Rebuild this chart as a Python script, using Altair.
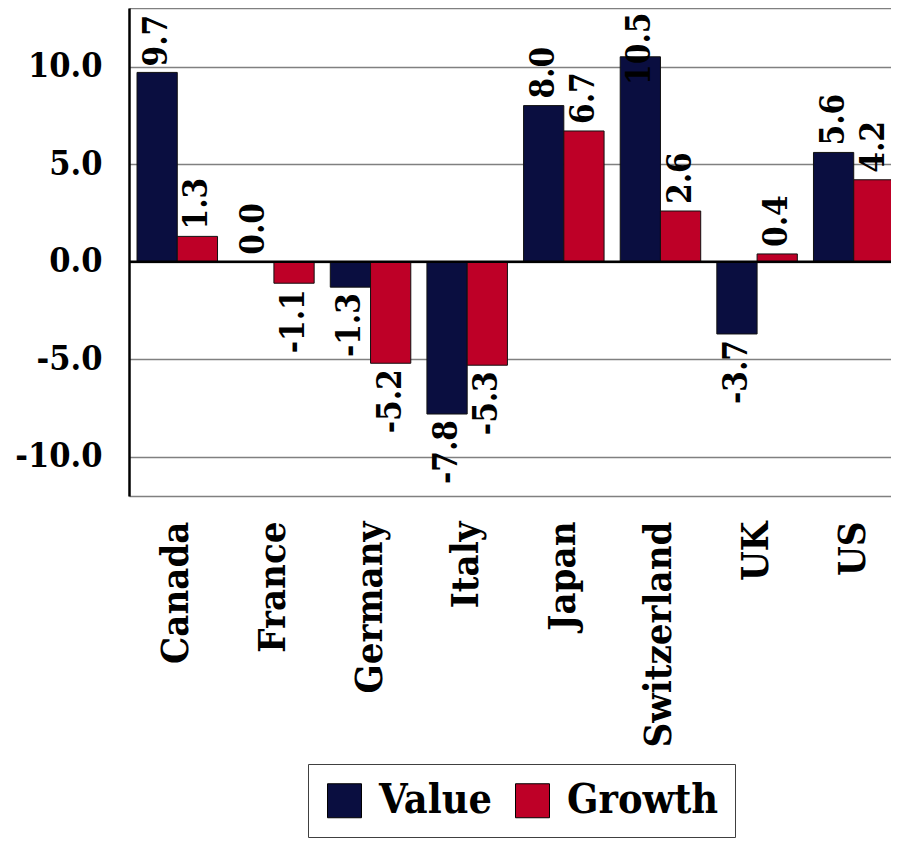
import altair as alt
import pandas as pd

countries = ["Canada", "France", "Germany", "Italy", "Japan", "Switzerland", "UK", "US"]
value = [9.7, 0.0, -1.3, -7.8, 8.0, 10.5, -3.7, 5.6]
growth = [1.3, -1.1, -5.2, -5.3, 6.7, 2.6, 0.4, 4.2]
series = ["Value", "Growth"]
colors = ["#0A0E40", "#BE0027"]
y_ticks = [-12, -10, -5, 0, 5, 10, 13]

rows = []
for i, c in enumerate(countries):
    rows.append({"country": c, "series": "Value", "v": value[i]})
    rows.append({"country": c, "series": "Growth", "v": growth[i]})
df = pd.DataFrame(rows)

FONTC = "DejaVu Serif Condensed"
MINUS = "\u2212"

x = alt.X(
    "country:N",
    sort=countries,
    scale=alt.Scale(range=[0, 773], paddingInner=0.167, paddingOuter=0.083),
    axis=alt.Axis(
        title=None, labelAngle=270, labelAlign="right", labelBaseline="middle",
        labelFont=FONTC, labelFontWeight="bold", labelFontSize=38, labelColor="black",
        labelPadding=25, labelLimit=400, ticks=False, domain=False, grid=False,
    ),
)
xo = alt.XOffset("series:N", sort=series, scale=alt.Scale(paddingInner=0, paddingOuter=0))
yscale = alt.Scale(domain=[-12, 13], nice=False, zero=False)

base = alt.Chart(df)

bars = base.mark_bar(stroke="#111111", strokeWidth=1).encode(
    x=x,
    xOffset=xo,
    y=alt.Y(
        "v:Q",
        scale=yscale,
        axis=alt.Axis(
            title=None, values=y_ticks,
            labelExpr="(datum.value == 13 || datum.value == -12) ? '' : replace(format(datum.value, '.1f'), '" + MINUS + "', '-')",
            labelFont=FONTC, labelFontWeight="bold", labelFontSize=34, labelColor="black",
            labelPadding=27, ticks=False, domain=True, domainColor="black", domainWidth=2.5,
            grid=True, gridColor="#808080", gridWidth=1.5,
        ),
    ),
    color=alt.Color(
        "series:N",
        sort=series,
        scale=alt.Scale(domain=series, range=colors),
        legend=alt.Legend(
            title=None, orient="none", legendX=179, legendY=756, direction="horizontal",
            symbolType="square", symbolSize=1156, symbolStrokeColor="black",
            symbolStrokeWidth=1, symbolOpacity=1,
            labelFont=FONTC, labelFontWeight="bold", labelFontSize=41, labelColor="black",
            labelOffset=14, columnPadding=19, padding=16,
            strokeColor="#404040", fillColor="white",
        ),
    ),
)

zero = alt.Chart(pd.DataFrame({"z": [0]})).mark_rule(color="black", strokeWidth=2.5).encode(
    y=alt.Y("z:Q", scale=yscale)
)

labels = base.transform_calculate(
    label="replace(format(datum.v, '.1f'), '" + MINUS + "', '-')"
)

pos = labels.transform_filter("datum.v >= 0").transform_calculate(
    ly="min(datum.v, 13 - length(datum.label) * 0.95 - 0.5)"
).mark_text(
    angle=270, align="left", baseline="middle", dx=7,
    font=FONTC, fontWeight="bold", fontSize=33, color="black",
).encode(x=x, xOffset=xo, y=alt.Y("ly:Q", scale=yscale), text="label:N")

neg = labels.transform_filter("datum.v < 0").mark_text(
    angle=270, align="right", baseline="middle", dx=-6,
    font=FONTC, fontWeight="bold", fontSize=33, color="black",
).encode(x=x, xOffset=xo, y=alt.Y("v:Q", scale=yscale), text="label:N")

chart = alt.layer(bars, zero, pos, neg).properties(
    width=762,
    height=488,
    autosize=alt.AutoSizeParams(type="none"),
    padding={"left": 121, "top": 0, "right": 0, "bottom": 345},
).configure_view(stroke=None).configure(background="white")

chart.save("out.html", embed_options={"renderer": "svg", "actions": False})
